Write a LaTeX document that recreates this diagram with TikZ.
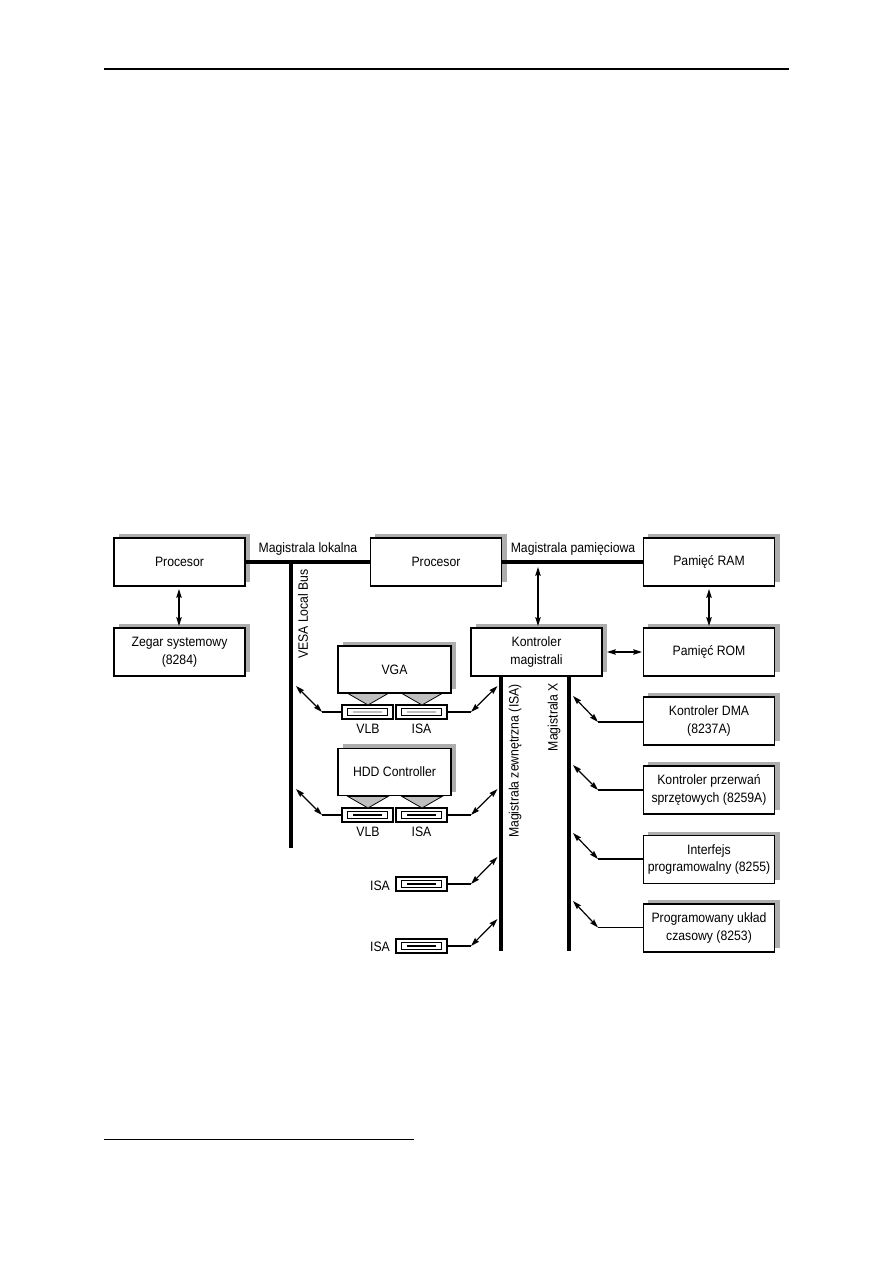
\documentclass[tikz,border=0pt]{standalone}
\usepackage{fontspec}
\setmainfont{Liberation Sans}[FakeStretch=0.9]
\usetikzlibrary{shadows,arrows.meta}
\definecolor{shadowgray}{gray}{0.68}
\definecolor{wedgegray}{gray}{0.75}
\tikzset{
  x=0.75pt, y=-0.75pt,
  unit box/.style={draw=black, line width=1.1pt, fill=white, inner sep=0pt, align=center,
    font=\fontsize{10.2pt}{13.4pt}\selectfont,
    copy shadow={shadow xshift=3.75pt, shadow yshift=3pt, fill=shadowgray, draw=none}},
  cpu size/.style={minimum width=98.5pt, minimum height=36pt},
  card size/.style={minimum width=85pt, minimum height=35.5pt},
  slot/.style={draw=black, line width=1pt, fill=white, minimum width=38.25pt, minimum height=10.5pt, inner sep=0pt},
  slot inner/.style={draw=black, line width=0.7pt, fill=white, minimum width=30pt, minimum height=5.5pt, inner sep=0pt},
  slot bar/.style={minimum width=22pt, minimum height=1.7pt, inner sep=0pt},
  wedge/.style={fill=wedgegray, draw=black, line width=0.6pt},
  bus/.style={line width=2.4pt},
  wire/.style={line width=0.8pt},
  link/.style={line width=0.9pt, {Stealth[length=6.5pt,width=4pt,inset=0.8pt,sep=0pt]}-{Stealth[length=6.5pt,width=4pt,inset=0.8pt,sep=0pt]}},
  lbl/.style={inner sep=0pt, font=\fontsize{10.2pt}{13.4pt}\selectfont},
}
% one expansion slot: #1 name, #2 centre x, #3 centre y, #4 colour of the contact bar
\newcommand{\slotat}[4]{%
  \node[slot] (#1) at (#2,#3) {};
  \node[slot inner] (#1i) at (#2,#3) {};
  \node[slot bar, fill=#4] (#1b) at (#2,#3) {};
}
\begin{document}
\begin{tikzpicture}
\useasboundingbox (0,0) rectangle (893,1263);
% page rules
\coordinate (headL) at (104,69);
\coordinate (headR) at (789,69);
\draw[line width=1.3pt] (headL) -- (headR);
\coordinate (footL) at (104,1139);
\coordinate (footR) at (414,1139);
\draw[line width=0.7pt] (footL) -- (footR);

% main units
\node[unit box, cpu size] (cpuA) at (179.5,562) {Procesor};
\node[unit box, cpu size] (clock) at (179.5,652) {Zegar systemowy\\(8284)};
\node[unit box, cpu size] (cpuB) at (436,562) {Procesor};
\node[unit box, cpu size] (ram) at (709,562) {Pamięć RAM};
\node[unit box, cpu size] (rom) at (709,652) {Pamięć ROM};
\node[unit box, cpu size] (ctrl) at (536.5,652) {Kontroler\\magistrali};
\node[unit box, cpu size] (dma) at (709,721) {Kontroler DMA\\(8237A)};
\node[unit box, cpu size] (irq) at (709,790) {Kontroler przerwań\\sprzętowych (8259A)};
\node[unit box, cpu size] (ppi) at (709,859.5) {Interfejs\\programowalny (8255)};
\node[unit box, cpu size] (timer) at (709,928) {Programowany układ\\czasowy (8253)};

% expansion cards
\node[unit box, card size] (vga) at (394.5,669.5) {VGA};
\node[unit box, card size] (hdd) at (394.5,772) {HDD Controller};

% slots
\slotat{vlbA}{367.5}{712}{wedgegray}
\slotat{isaA}{421.5}{712}{wedgegray}
\slotat{vlbB}{367.5}{815}{black}
\slotat{isaB}{421.5}{815}{black}
\slotat{isaC}{421.5}{884}{black}
\slotat{isaD}{421.5}{946}{black}

% card edge connectors
\draw[wedge] (348,693.5) -- (388,693.5) -- (368,705) -- cycle;
\draw[wedge] (402,693.5) -- (442,693.5) -- (422,705) -- cycle;
\draw[wedge] (348,796.5) -- (388,796.5) -- (368,808) -- cycle;
\draw[wedge] (402,796.5) -- (442,796.5) -- (422,808) -- cycle;

% buses
\draw[bus] (cpuA.east) -- (cpuB.west);
\draw[bus] (cpuB.east) -- (ram.west);
\coordinate (vesaTop) at (291,562);
\coordinate (vesaEnd) at (291,848);
\draw[bus] (vesaTop) -- (vesaEnd);
\coordinate (isaTop) at (501,676);
\coordinate (isaEnd) at (501,951);
\draw[bus] (isaTop) -- (isaEnd);
\coordinate (xTop) at (569,676);
\coordinate (xEnd) at (569,951);
\draw[bus] (xTop) -- (xEnd);

% direct links between units
\coordinate (clockUp) at (179,589);
\coordinate (clockDn) at (179,626);
\draw[link] (clockUp) -- (clockDn);
\coordinate (ramUp) at (709,589);
\coordinate (ramDn) at (709,626);
\draw[link, line width=1.3pt] (ramUp) -- (ramDn);
\coordinate (busUp) at (538,567);
\coordinate (busDn) at (538,626);
\draw[link] (busUp) -- (busDn);
\coordinate (romL) at (607,652);
\coordinate (romR) at (642,652);
\draw[link] (romL) -- (romR);

% slot stubs with their angled links to the buses
\coordinate (a1) at (322,712); \coordinate (a1t) at (296,686);
\draw[wire] (vlbA.west) -- (a1);
\draw[link] (a1) -- (a1t);
\coordinate (a2) at (322,815); \coordinate (a2t) at (296,789);
\draw[wire] (vlbB.west) -- (a2);
\draw[link] (a2) -- (a2t);
\coordinate (b1) at (471,712); \coordinate (b1t) at (497.5,686);
\draw[wire] (isaA.east) -- (b1);
\draw[link] (b1) -- (b1t);
\coordinate (b2) at (471,815); \coordinate (b2t) at (497.5,789);
\draw[wire] (isaB.east) -- (b2);
\draw[link] (b2) -- (b2t);
\coordinate (b3) at (471,884); \coordinate (b3t) at (497.5,857);
\draw[wire] (isaC.east) -- (b3);
\draw[link] (b3) -- (b3t);
\coordinate (b4) at (471,946); \coordinate (b4t) at (497.5,919);
\draw[wire] (isaD.east) -- (b4);
\draw[link] (b4) -- (b4t);

% peripherals on the X bus
\coordinate (c1) at (598,722); \coordinate (c1t) at (573,696);
\draw[wire] (dma.west |- c1) -- (c1);
\draw[link] (c1) -- (c1t);
\coordinate (c2) at (598,790); \coordinate (c2t) at (573,765);
\draw[wire] (irq.west) -- (c2);
\draw[link] (c2) -- (c2t);
\coordinate (c3) at (598,859); \coordinate (c3t) at (573,833);
\draw[wire] (ppi.west |- c3) -- (c3);
\draw[link] (c3) -- (c3t);
\coordinate (c4) at (598,927.5); \coordinate (c4t) at (573,901);
\draw[wire] (timer.west |- c4) -- (c4);
\draw[link] (c4) -- (c4t);

% bus names
\node[lbl] (lLocal) at (308,549) {Magistrala lokalna};
\node[lbl] (lMem) at (573,549) {Magistrala pamięciowa};
\node[lbl, rotate=90] (lVesa) at (303,614) {VESA Local Bus};
\node[lbl, rotate=90] (lIsa) at (515,761) {Magistrala zewnętrzna (ISA)};
\node[lbl, rotate=90] (lX) at (554,717) {Magistrala X};

% slot names
\node[lbl] (n1) at (368,729) {VLB};
\node[lbl] (n2) at (421.5,729) {ISA};
\node[lbl] (n3) at (368,832) {VLB};
\node[lbl] (n4) at (421.5,832) {ISA};
\node[lbl] (n5) at (380,885.5) {ISA};
\node[lbl] (n6) at (380,947) {ISA};
\end{tikzpicture}
\end{document}
